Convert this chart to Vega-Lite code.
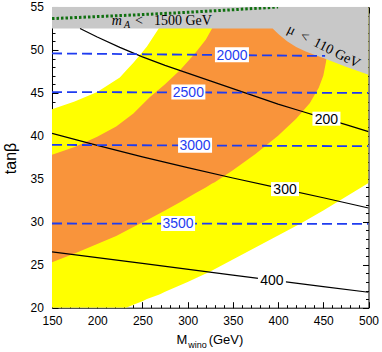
{
  "$schema": "https://vega.github.io/schema/vega-lite/v6.json",
  "autosize": {"type": "none"},
  "padding": {"left": 52, "top": 7, "right": 13, "bottom": 44},
  "width": 316.5,
  "height": 300.7,
  "config": {
    "view": {"stroke": "black", "strokeWidth": 1},
    "axis": {"grid": false, "domain": false, "labelFont": "Liberation Sans", "labelFontSize": 12, "labelColor": "black", "tickColor": "black", "tickWidth": 1, "titleFont": "Liberation Sans", "titleColor": "black", "titleFontWeight": "normal", "labelFlush": false, "labelOverlap": false, "labelBound": false}
  },
  "resolve": {"axis": {"x": "independent", "y": "independent"}},
  "layer": [
    {
      "data": {"values": [
        {"x": 150, "lo": 20, "hi": 43.1}, {"x": 175, "lo": 20, "hi": 44.0}, {"x": 200, "lo": 20, "hi": 45.1},
        {"x": 225, "lo": 20, "hi": 46.8}, {"x": 232, "lo": 20, "hi": 47.6}, {"x": 240, "lo": 20.35, "hi": 48.5},
        {"x": 250, "lo": 20.75, "hi": 49.77}, {"x": 255, "lo": 21.0, "hi": 50.4}, {"x": 268, "lo": 21.5, "hi": 52.5},
        {"x": 270, "lo": 21.6, "hi": 55}, {"x": 275, "lo": 21.85, "hi": 55}, {"x": 300, "lo": 23.0, "hi": 55},
        {"x": 325, "lo": 24.2, "hi": 55}, {"x": 350, "lo": 25.6, "hi": 55}, {"x": 375, "lo": 27.0, "hi": 55},
        {"x": 400, "lo": 28.4, "hi": 55}, {"x": 425, "lo": 29.8, "hi": 55}, {"x": 450, "lo": 31.3, "hi": 55},
        {"x": 475, "lo": 32.9, "hi": 55}, {"x": 500, "lo": 34.5, "hi": 55}
      ]},
      "mark": {"type": "area", "color": "#ffff00", "clip": true},
      "encoding": {
        "x": {"field": "x", "type": "quantitative", "scale": {"domain": [150, 500], "nice": false, "zero": false},
          "axis": {"orient": "bottom", "values": [150, 200, 250, 300, 350, 400, 450, 500], "tickSize": -6, "labelPadding": 14, "title": "M", "titleFontSize": 13, "titleX": 129.5, "titleY": 36, "titleBaseline": "alphabetic", "titleAlign": "center"}},
        "y": {"field": "lo", "type": "quantitative", "scale": {"domain": [20, 55], "nice": false, "zero": false},
          "axis": {"orient": "left", "values": [20, 25, 30, 35, 40, 45, 50, 55], "tickSize": -6, "labelPadding": 14.7, "title": "tanβ", "titleFontSize": 16, "titleX": -42, "titleY": 151, "titleAngle": -90, "titleBaseline": "middle", "titleAlign": "center"}},
        "y2": {"field": "hi"}
      }
    },
    {
      "data": {"values": [
        {"x": 150, "lo": 25.3, "hi": 37.8}, {"x": 175, "lo": 26.3, "hi": 38.7}, {"x": 200, "lo": 27.4, "hi": 39.9},
        {"x": 221, "lo": 28.35, "hi": 41.1}, {"x": 240, "lo": 29.4, "hi": 42.6}, {"x": 258, "lo": 30.35, "hi": 44.5},
        {"x": 275, "lo": 31.3, "hi": 46.0}, {"x": 292, "lo": 32.3, "hi": 47.7}, {"x": 308, "lo": 33.3, "hi": 49.6},
        {"x": 320, "lo": 34.0, "hi": 51.2}, {"x": 327, "lo": 34.45, "hi": 52.5}, {"x": 330, "lo": 34.6, "hi": 55},
        {"x": 350, "lo": 36.0, "hi": 55}, {"x": 375, "lo": 37.9, "hi": 55}, {"x": 400, "lo": 40.0, "hi": 55},
        {"x": 420, "lo": 42.0, "hi": 55}, {"x": 435, "lo": 43.8, "hi": 55}, {"x": 445, "lo": 45.6, "hi": 55},
        {"x": 450, "lo": 47.0, "hi": 55}, {"x": 453, "lo": 48.6, "hi": 55}, {"x": 454, "lo": 49.5, "hi": 55}
      ]},
      "mark": {"type": "area", "color": "#f9943b", "clip": true},
      "encoding": {
        "x": {"field": "x", "type": "quantitative",
          "axis": {"orient": "top", "values": [150, 200, 250, 300, 350, 400, 450, 500], "tickSize": -6, "labels": false, "title": null}},
        "y": {"field": "lo", "type": "quantitative",
          "axis": {"orient": "right", "values": [20, 25, 30, 35, 40, 45, 50, 55], "tickSize": -6, "labels": false, "title": null}},
        "y2": {"field": "hi"}
      }
    },
    {
      "data": {"values": [
        {"x": 150, "lo": 52.5, "hi": 55}, {"x": 394, "lo": 52.5, "hi": 55}, {"x": 400, "lo": 51.9, "hi": 55},
        {"x": 410, "lo": 51.0, "hi": 55}, {"x": 420, "lo": 50.35, "hi": 55}, {"x": 430, "lo": 49.85, "hi": 55},
        {"x": 440, "lo": 49.45, "hi": 55}, {"x": 450, "lo": 49.05, "hi": 55}, {"x": 475, "lo": 48.05, "hi": 55},
        {"x": 500, "lo": 47.1, "hi": 55}
      ]},
      "mark": {"type": "area", "color": "#c8c8c8", "clip": true},
      "encoding": {
        "x": {"field": "x", "type": "quantitative",
          "axis": {"orient": "bottom", "values": [160,170,180,190,200,210,220,230,240,250,260,270,280,290,300,310,320,330,340,350,360,370,380,390,400,410,420,430,440,450,460,470,480,490], "tickSize": -3, "labels": false, "title": "wino", "titleFontSize": 9, "titleX": 145, "titleY": 39.5, "titleBaseline": "alphabetic", "titleAlign": "center"}},
        "y": {"field": "lo", "type": "quantitative",
          "axis": {"orient": "left", "values": [21,22,23,24,25,26,27,28,29,30,31,32,33,34,35,36,37,38,39,40,41,42,43,44,45,46,47,48,49,50,51,52,53,54], "tickSize": -3, "labels": false, "title": null}},
        "y2": {"field": "hi"}
      }
    },
    {
      "data": {"values": [
        {"c": "200", "x": 181, "y": 52.5}, {"c": "200", "x": 200, "y": 51.5}, {"c": "200", "x": 225, "y": 50.3},
        {"c": "200", "x": 250, "y": 49.2}, {"c": "200", "x": 275, "y": 48.2}, {"c": "200", "x": 300, "y": 47.3},
        {"c": "200", "x": 325, "y": 46.4}, {"c": "200", "x": 350, "y": 45.5}, {"c": "200", "x": 375, "y": 44.6},
        {"c": "200", "x": 400, "y": 43.7}, {"c": "200", "x": 425, "y": 42.9}, {"c": "200", "x": 450, "y": 42.1},
        {"c": "200", "x": 475, "y": 41.3}, {"c": "200", "x": 500, "y": 40.5},
        {"c": "300", "x": 150, "y": 40.3}, {"c": "300", "x": 200, "y": 38.9}, {"c": "300", "x": 250, "y": 37.55},
        {"c": "300", "x": 300, "y": 36.3}, {"c": "300", "x": 350, "y": 35.1}, {"c": "300", "x": 400, "y": 33.95},
        {"c": "300", "x": 450, "y": 32.8}, {"c": "300", "x": 500, "y": 31.6},
        {"c": "400", "x": 150, "y": 26.5}, {"c": "400", "x": 250, "y": 25.15}, {"c": "400", "x": 350, "y": 23.8},
        {"c": "400", "x": 450, "y": 22.45}, {"c": "400", "x": 500, "y": 21.8}
      ]},
      "mark": {"type": "line", "color": "black", "strokeWidth": 1.2, "clip": true},
      "encoding": {
        "x": {"field": "x", "type": "quantitative",
          "axis": {"orient": "top", "values": [160,170,180,190,200,210,220,230,240,250,260,270,280,290,300,310,320,330,340,350,360,370,380,390,400,410,420,430,440,450,460,470,480,490], "tickSize": -3, "labels": false, "title": null}},
        "y": {"field": "y", "type": "quantitative",
          "axis": {"orient": "right", "values": [21,22,23,24,25,26,27,28,29,30,31,32,33,34,35,36,37,38,39,40,41,42,43,44,45,46,47,48,49,50,51,52,53,54], "tickSize": -3, "labels": false, "title": null}},
        "detail": {"field": "c"}
      }
    },
    {
      "data": {"values": [
        {"m": "2000", "x": 150, "y": 49.6}, {"m": "2000", "x": 452, "y": 49.3},
        {"m": "2500", "x": 150, "y": 45.1}, {"m": "2500", "x": 500, "y": 45.0},
        {"m": "3000", "x": 150, "y": 38.95}, {"m": "3000", "x": 500, "y": 38.8},
        {"m": "3500", "x": 150, "y": 29.8}, {"m": "3500", "x": 500, "y": 29.75}
      ]},
      "mark": {"type": "line", "color": "#1f3cf0", "strokeWidth": 1.8, "strokeDash": [10, 5], "clip": true},
      "encoding": {
        "x": {"field": "x", "type": "quantitative",
          "axis": {"orient": "bottom", "ticks": false, "labels": false, "title": "(GeV)", "titleFontSize": 13, "titleX": 173.5, "titleY": 36, "titleBaseline": "alphabetic", "titleAlign": "center"}},
        "y": {"field": "y", "type": "quantitative", "axis": null},
        "detail": {"field": "m"}
      }
    },
    {
      "data": {"values": [
        {"x": 150, "y": 53.65}, {"x": 200, "y": 53.88}, {"x": 250, "y": 54.12},
        {"x": 300, "y": 54.38}, {"x": 350, "y": 54.68}, {"x": 400, "y": 55.0}
      ]},
      "mark": {"type": "line", "color": "#107010", "strokeWidth": 3, "strokeDash": [2.5, 2], "clip": true},
      "encoding": {
        "x": {"field": "x", "type": "quantitative", "axis": null},
        "y": {"field": "y", "type": "quantitative", "axis": null}
      }
    },
    {
      "data": {"values": [
        {"x": 349, "y": 49.45, "t": "2000"}, {"x": 300.8, "y": 45.1, "t": "2500"},
        {"x": 308.2, "y": 38.9, "t": "3000"}, {"x": 289.4, "y": 29.8, "t": "3500"}
      ]},
      "layer": [
        {"mark": {"type": "point", "shape": "M-1,-0.44H1V0.44H-1Z", "size": 1156, "filled": true, "fill": "white", "opacity": 1, "strokeWidth": 0}},
        {"mark": {"type": "text", "font": "Liberation Sans", "fontSize": 14, "color": "#1f3cf0", "align": "center", "baseline": "middle", "dy": 1}, "encoding": {"text": {"field": "t"}}}
      ],
      "encoding": {
        "x": {"field": "x", "type": "quantitative", "axis": null},
        "y": {"field": "y", "type": "quantitative", "axis": null}
      }
    },
    {
      "data": {"values": [
        {"x": 453.5, "y": 42.0, "t": "200"}, {"x": 407.7, "y": 33.8, "t": "300"}, {"x": 393.2, "y": 23.2, "t": "400"}
      ]},
      "layer": [
        {"mark": {"type": "point", "shape": "M-1,-0.5H1V0.5H-1Z", "size": 784, "filled": true, "fill": "white", "opacity": 1, "strokeWidth": 0}},
        {"mark": {"type": "text", "font": "Liberation Sans", "fontSize": 14, "color": "black", "align": "center", "baseline": "middle", "dy": 1}, "encoding": {"text": {"field": "t"}}}
      ],
      "encoding": {
        "x": {"field": "x", "type": "quantitative", "axis": null},
        "y": {"field": "y", "type": "quantitative", "axis": null}
      }
    },
    {
      "data": {"values": [{"x": 216.0, "y": 52.88, "t": "m"}]},
      "mark": {"type": "text", "font": "Liberation Serif", "fontSize": 14, "fontStyle": "italic", "color": "black", "align": "left", "baseline": "alphabetic"},
      "encoding": {"x": {"field": "x", "type": "quantitative", "axis": null}, "y": {"field": "y", "type": "quantitative", "axis": null}, "text": {"field": "t"}}
    },
    {
      "data": {"values": [{"x": 229.6, "y": 52.56, "t": "A"}]},
      "mark": {"type": "text", "font": "Liberation Serif", "fontSize": 10, "fontStyle": "italic", "color": "black", "align": "left", "baseline": "alphabetic"},
      "encoding": {"x": {"field": "x", "type": "quantitative", "axis": null}, "y": {"field": "y", "type": "quantitative", "axis": null}, "text": {"field": "t"}}
    },
    {
      "data": {"values": [{"x": 241.8, "y": 52.88, "t": "<"}, {"x": 262.8, "y": 52.88, "t": "1500 GeV"}]},
      "mark": {"type": "text", "font": "Liberation Serif", "fontSize": 14, "color": "black", "align": "left", "baseline": "alphabetic"},
      "encoding": {"x": {"field": "x", "type": "quantitative", "axis": null}, "y": {"field": "y", "type": "quantitative", "axis": null}, "text": {"field": "t"}}
    },
    {
      "data": {"values": [{"x": 450.3, "y": 50.4, "t": "μ\u00a0\u00a0<\u00a0\u00a0110\u00a0GeV"}]},
      "mark": {"type": "text", "font": "Liberation Serif", "fontSize": 14, "color": "black", "align": "center", "baseline": "middle", "angle": 27},
      "encoding": {"x": {"field": "x", "type": "quantitative", "axis": null}, "y": {"field": "y", "type": "quantitative", "axis": null}, "text": {"field": "t"}}
    }
  ]
}
